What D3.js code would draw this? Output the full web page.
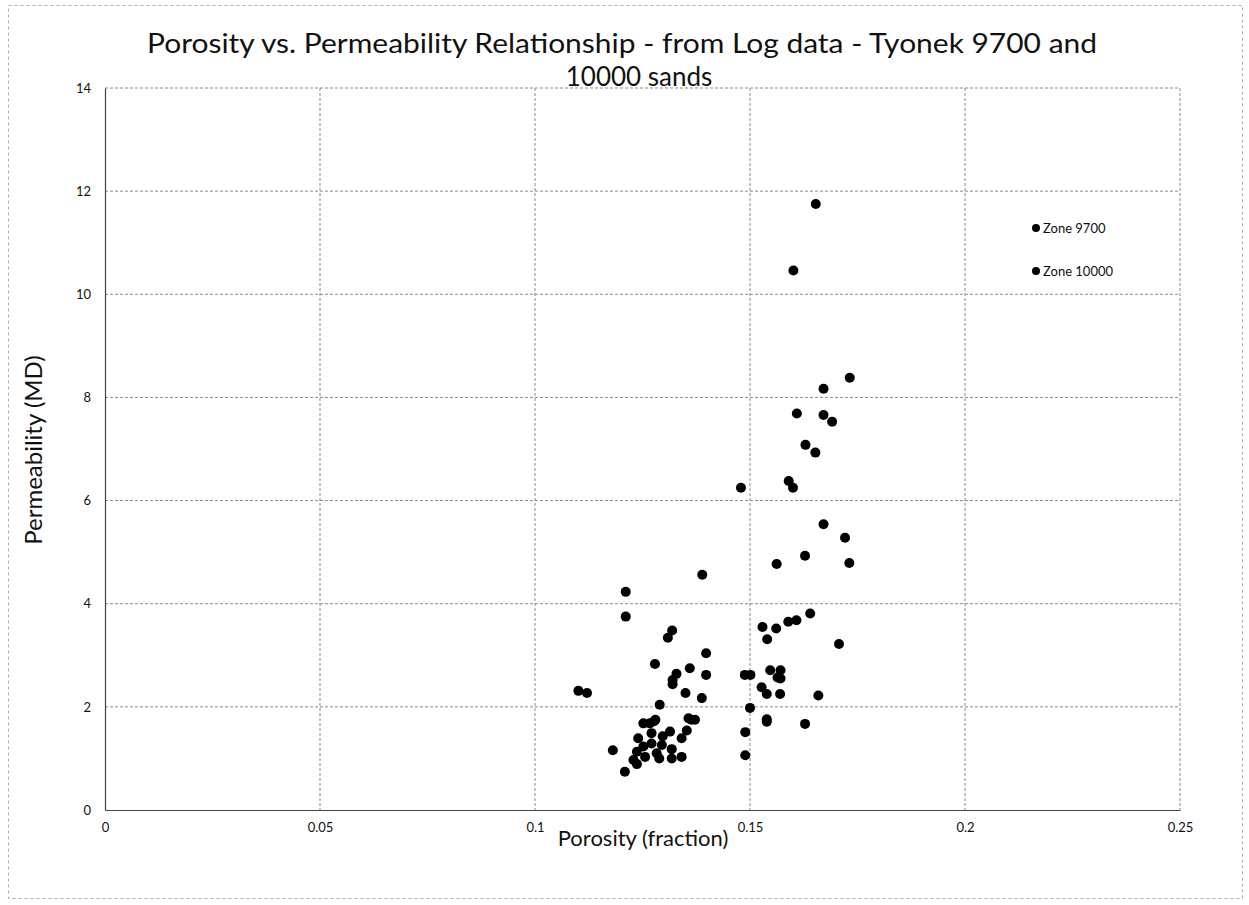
<!DOCTYPE html>
<html><head><meta charset="utf-8">
<script src="https://cdn.jsdelivr.net/npm/d3@7"></script>
<style>body{margin:0;background:#fff}svg{display:block}</style>
</head><body><svg id="c" width="1249" height="905"></svg>
<script>
const titleLines = ["Porosity vs. Permeability Relationship - from Log data - Tyonek 9700 and", "10000 sands"];
const xLabel = "Porosity (fraction)";
const yLabel = "Permeability (MD)";
const xTicks = [0, 0.05, 0.1, 0.15, 0.2, 0.25];
const xTickLabels = ["0", "0.05", "0.1", "0.15", "0.2", "0.25"];
const yTicks = [0, 2, 4, 6, 8, 10, 12, 14];
const seriesNames = ["Zone 9700", "Zone 10000"];

// Zone 9700 (lower-porosity cluster)
const zone9700Porosity = [0.1389,0.1211,0.1211,0.1319,0.1309,0.1398,0.1279,0.1360,0.1329,0.1320,0.1320,0.1398,0.1101,0.1121,0.1350,0.1388,0.1290,
  0.1252,0.1277,0.1357,0.1372,0.1353,0.1314,0.1297,0.1341,0.1271,0.1240,0.1181,0.1271,0.1295,0.1252,0.1318,0.1237,0.1283,0.1229,0.1237,0.1289,0.1318,0.1341,0.1209,0.1256,0.1267,0.1280,0.1364];
const zone9700Perm = [4.56,4.23,3.75,3.48,3.34,3.04,2.83,2.75,2.64,2.52,2.44,2.62,2.31,2.27,2.27,2.17,2.04,
  1.68,1.72,1.78,1.75,1.54,1.52,1.43,1.39,1.49,1.39,1.16,1.29,1.26,1.23,1.18,1.13,1.10,0.97,0.89,1.00,1.00,1.03,0.74,1.03,1.68,1.75,1.75];

// Zone 10000 (higher-porosity spread)
const zone10000Porosity = [0.1653,0.1601,0.1732,0.1671,0.1609,0.1671,0.1691,0.1629,0.1652,0.1590,0.1600,0.1479,0.1671,0.1721,
  0.1628,0.1562,0.1731,0.1640,0.1608,0.1589,0.1529,0.1561,0.1540,0.1707,0.1488,0.1501,0.1547,0.1571,0.1564,0.1571,0.1527,0.1539,0.1570,0.1659,0.1500,0.1539,0.1539,0.1628,0.1489,0.1489];
const zone10000Perm = [11.75,10.46,8.38,8.17,7.69,7.66,7.53,7.08,6.93,6.38,6.25,6.25,5.54,5.28,
  4.93,4.77,4.79,3.81,3.68,3.65,3.55,3.52,3.31,3.22,2.62,2.62,2.71,2.71,2.57,2.55,2.38,2.25,2.25,2.22,1.98,1.76,1.71,1.67,1.51,1.06];

const svg = d3.select("#c");
const FONT = "Lato, 'Open Sans', sans-serif";
const L = 105, R = 1180, T = 88, B = 810;
const x = d3.scaleLinear().domain([0, 0.25]).range([L, R]);
const y = d3.scaleLinear().domain([0, 14]).range([B, T]);

// outer chart frame (dashed, as in scan)
svg.append("rect").attr("x", 8.5).attr("y", 5.5).attr("width", 1234).attr("height", 893)
  .attr("fill", "none").attr("stroke", "#aaa").attr("stroke-dasharray", "3,3").attr("stroke-width", 1);

// gridlines
svg.append("g").selectAll("line").data(yTicks.filter(d => d > 0)).join("line")
  .attr("x1", L).attr("x2", R).attr("y1", d => y(d)).attr("y2", d => y(d))
  .attr("stroke", "#8a8a8a").attr("stroke-width", 1).attr("stroke-dasharray", "3,2");
svg.append("g").selectAll("line").data(xTicks.filter(d => d > 0)).join("line")
  .attr("y1", T).attr("y2", B).attr("x1", d => x(d)).attr("x2", d => x(d))
  .attr("stroke", "#8a8a8a").attr("stroke-width", 1).attr("stroke-dasharray", "3,2");

// axes
const xAxis = d3.axisBottom(x).tickValues(xTicks).tickFormat((d, i) => xTickLabels[i]).tickSize(0).tickPadding(13);
const gx = svg.append("g").attr("transform", `translate(0,${B})`).call(xAxis);
gx.select(".domain").attr("stroke", "#444").attr("stroke-width", 1.2);
gx.selectAll("text").attr("font-family", FONT).attr("font-size", 13).attr("fill", "#111");

const yAxis = d3.axisLeft(y).tickValues(yTicks).tickSize(0).tickPadding(14);
const gy = svg.append("g").attr("transform", `translate(${L},0)`).call(yAxis);
gy.select(".domain").attr("stroke", "#444").attr("stroke-width", 1.2);
gy.selectAll("text").attr("font-family", FONT).attr("font-size", 13).attr("fill", "#111");

// points
const s1 = zone9700Porosity.map((p, i) => ({p, k: zone9700Perm[i]}));
const s2 = zone10000Porosity.map((p, i) => ({p, k: zone10000Perm[i]}));
[s1, s2].forEach(s => {
  svg.append("g").selectAll("circle").data(s).join("circle")
    .attr("cx", d => x(d.p)).attr("cy", d => y(d.k)).attr("r", 5).attr("fill", "#000");
});

// legend
const lg = svg.append("g");
seriesNames.forEach((n, i) => {
  const yy = 228 + i * 43;
  lg.append("circle").attr("cx", 1036).attr("cy", yy).attr("r", 4).attr("fill", "#000");
  lg.append("text").attr("x", 1043).attr("y", yy).attr("dy", "0.35em")
    .attr("font-family", FONT).attr("font-size", 13).attr("fill", "#111").text(n);
});

// title
const tg = svg.append("g");
tg.append("text").attr("x", 622).attr("y", 53).attr("text-anchor", "middle")
  .attr("font-family", FONT).attr("font-size", 26).attr("fill", "#111")
  .attr("textLength", 950).attr("lengthAdjust", "spacingAndGlyphs").text(titleLines[0]);
tg.append("text").attr("x", 639).attr("y", 86).attr("text-anchor", "middle")
  .attr("font-family", FONT).attr("font-size", 26).attr("fill", "#111").text(titleLines[1]);

// axis titles
svg.append("text").attr("x", 643).attr("y", 846).attr("text-anchor", "middle")
  .attr("font-family", FONT).attr("font-size", 22).attr("fill", "#111").text(xLabel);
svg.append("text").attr("transform", "translate(42,450) rotate(-90)").attr("text-anchor", "middle")
  .attr("font-family", FONT).attr("font-size", 24).attr("fill", "#111").text(yLabel);
</script></body></html>
